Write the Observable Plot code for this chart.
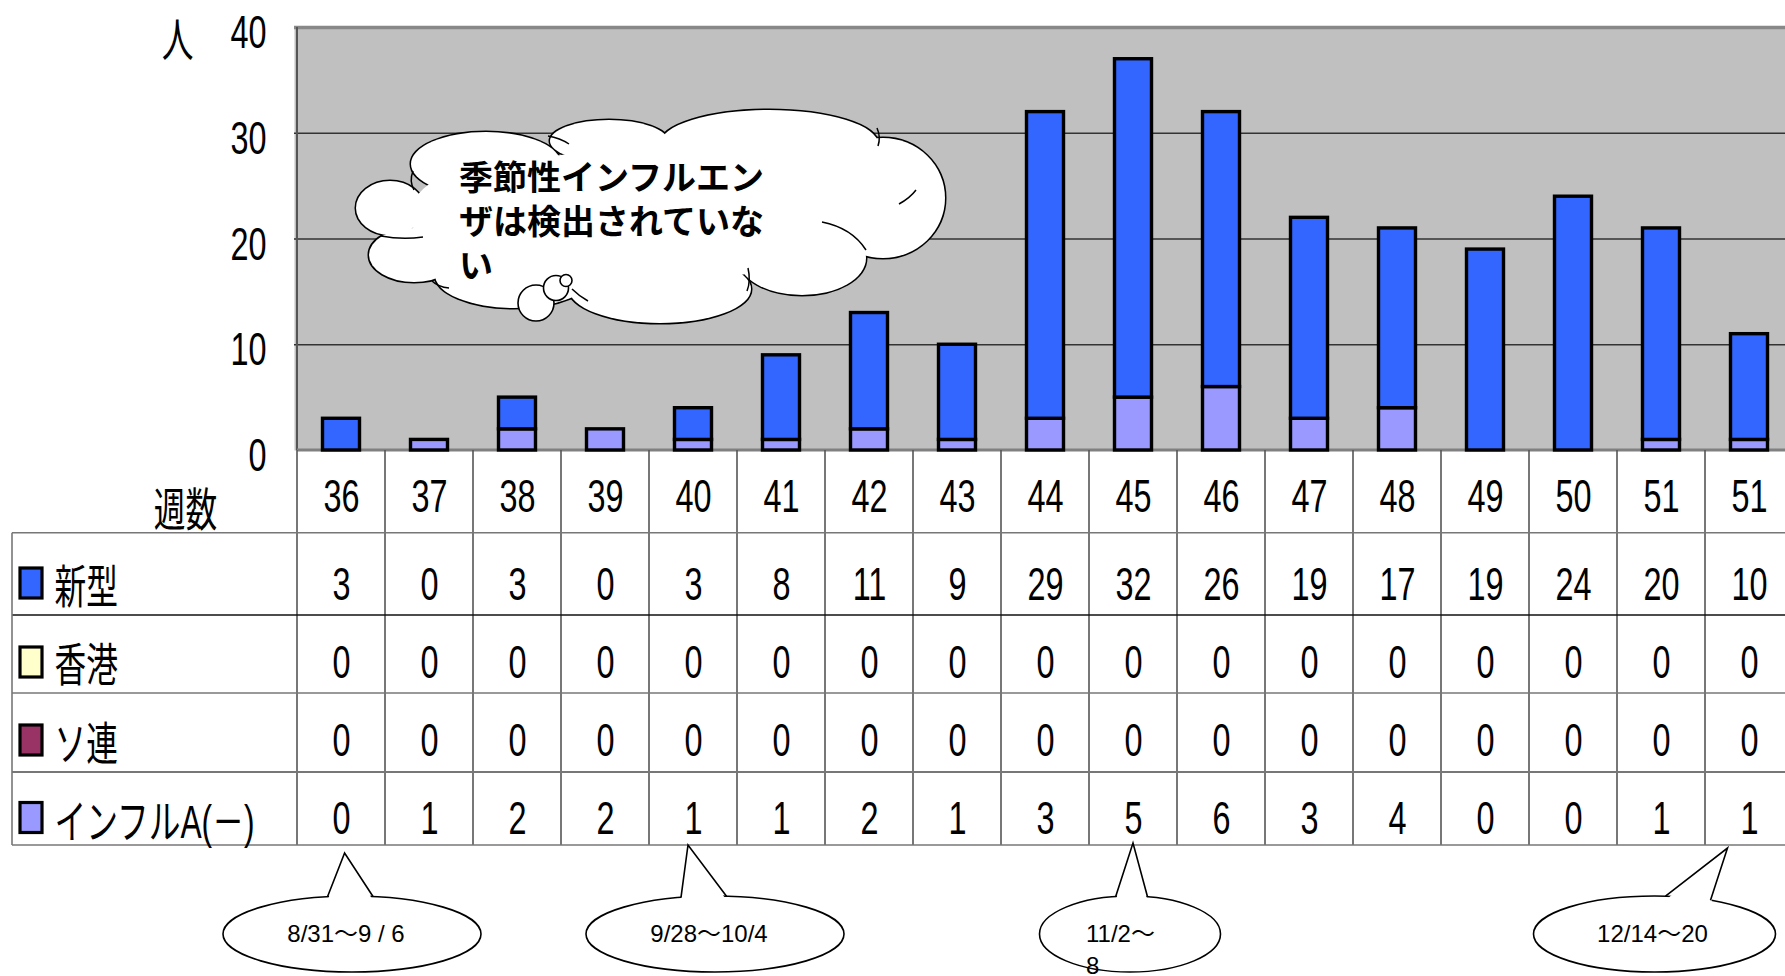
<!DOCTYPE html>
<html><head><meta charset="utf-8">
<script src="https://cdn.jsdelivr.net/npm/d3@7"></script>
<script src="https://cdn.jsdelivr.net/npm/@observablehq/plot@0.6"></script>
<style>
html,body{margin:0;padding:0;background:#fff;overflow:hidden;}
#chart{width:1785px;height:976px;}
</style></head><body><div id="chart"></div>
<script>
// ---- data ----
const weeks = ["36","37","38","39","40","41","42","43","44","45","46","47","48","49","50","51","51"];
const shingata = [3,0,3,0,3,8,11,9,29,32,26,19,17,19,24,20,10];
const hongkong = [0,0,0,0,0,0,0,0,0,0,0,0,0,0,0,0,0];
const soren    = [0,0,0,0,0,0,0,0,0,0,0,0,0,0,0,0,0];
const influA   = [0,1,2,2,1,1,2,1,3,5,6,3,4,0,0,1,1];
const seriesNames = ["新型","香港","ソ連","インフルA(－)"];
const seriesColors = ["#3366FF","#FFFFCC","#993366","#9999FF"];
const yTicks = [0,10,20,30,40];
const yUnit = "人";
const xTitle = "週数";
const cloudLines = ["季節性インフルエン","ザは検出されていな","い"];
const dateNotes = [
  {col:0,  lines:["8/31〜9 / 6"]},
  {col:4,  lines:["9/28〜10/4"]},
  {col:9,  lines:["11/2〜","8"]},
  {col:16, lines:["12/14〜20"]}
];

// ---- layout ----
const W = 1785, H = 976;
const L = {left:294, top:27, bottom:450, right:1795.7,
  rowEdges:[0,82.7,165,243,322,395], tableLeft:12,
  textRows:[46,134,212,290.4,368.3], labelRows:[138,216,294.5,373],
  swatchRows:[133,212,290,367.5]};
const NARROW = "Liberation Sans, Noto Sans CJK JP, sans-serif";
const seriesValues = [shingata, hongkong, soren, influA];

const barData = [];
for (const s of [3,0,1,2]) weeks.forEach((w,i) => {
  const v = seriesValues[s][i];
  if (v > 0) barData.push({i, series: seriesNames[s], value: v});
});

function narrowText(data, opts) {
  return Plot.text(data, {fontFamily: NARROW, fill: "#000", className: "narrow", fontSize: 47,
    lineAnchor: "middle", textAnchor: "middle", ...opts});
}

function tableMark(index, scales, values, dims) {
  const x = scales.x, bw = x.bandwidth();
  const yb = dims.height - dims.marginBottom;
  const g = d3.create("svg:g");
  const n = weeks.length;
  const bottom = yb + L.rowEdges[L.rowEdges.length-1];
  g.append("line").attr("x1", x(0)).attr("x2", x(0)).attr("y1", dims.marginTop).attr("y2", yb)
    .attr("stroke", "#555").attr("stroke-width", 2);
  g.append("line").attr("x1", x(0)).attr("x2", dims.width).attr("y1", yb).attr("y2", yb)
    .attr("stroke", "#808080").attr("stroke-width", 3);
  for (let i = 0; i <= n; i++) {
    const xx = i < n ? x(i) : x(n-1) + bw;
    g.append("line").attr("x1", xx).attr("x2", xx).attr("y1", yb).attr("y2", bottom)
      .attr("stroke", "#555").attr("stroke-width", 1.6);
  }
  L.rowEdges.slice(1).forEach((o, k) => {
    g.append("line").attr("x1", L.tableLeft).attr("x2", dims.width).attr("y1", yb + o).attr("y2", yb + o)
      .attr("stroke", k === 1 ? "#111" : "#777").attr("stroke-width", k === 3 ? 2.2 : 1.6);
  });
  g.append("line").attr("x1", L.tableLeft).attr("x2", L.tableLeft).attr("y1", yb + L.rowEdges[1]).attr("y2", bottom)
    .attr("stroke", "#777").attr("stroke-width", 1.6);
  seriesColors.forEach((c, k) => {
    g.append("rect").attr("x", 20).attr("y", yb + L.swatchRows[k] - 15).attr("width", 22).attr("height", 30)
      .attr("fill", c).attr("stroke", "#000").attr("stroke-width", 3.2);
  });
  return g.node();
}

function cloudMark(index, scales, values, dims) {
  const g = d3.create("svg:g");
  const bumps = [
    [390,208,34,27],[414,255,45,27],[486,164,75,32],[609,141,59,21],[769,144,109,34],
    [883,198,62,60],[802,258,64,37],[660,289,91,34],[514,275,79,33]
  ];
  const outline = g.append("g");
  bumps.forEach(([cx,cy,rx,ry]) => outline.append("ellipse").attr("cx",cx).attr("cy",cy).attr("rx",rx).attr("ry",ry)
    .attr("fill","#fff").attr("stroke","#000").attr("stroke-width",3));
  const fillL = g.append("g");
  bumps.concat([[650,215,215,66],[795,205,90,45],[520,215,110,55]]).forEach(([cx,cy,rx,ry]) =>
    fillL.append("ellipse").attr("cx",cx).attr("cy",cy).attr("rx",rx).attr("ry",ry).attr("fill","#fff"));
  // short inner arcs of the cloud callout
  ["M381,236 Q402,240 423,237", "M413,171 Q409,181 414,190", "M548,136 Q560,138 569,144",
   "M822,222 Q852,228 866,250", "M899,204 Q910,198 916,190", "M748,268 Q751,281 747,291",
   "M572,289 Q579,296 588,301", "M432,281 Q438,287 449,288", "M877,128 Q881,137 878,146"]
    .forEach(d => g.append("path").attr("d", d).attr("fill","none").attr("stroke","#000").attr("stroke-width",1.5));
  [[536,303,18],[556,288,12.5],[566,280.5,6]].forEach(([cx,cy,r]) =>
    g.append("circle").attr("cx",cx).attr("cy",cy).attr("r",r).attr("fill","#fff").attr("stroke","#000").attr("stroke-width",1.6));
  const t = g.append("text").attr("font-family","Noto Sans CJK JP, sans-serif").attr("font-weight","bold")
    .attr("font-size",34).attr("fill","#000").attr("text-anchor","start");
  cloudLines.forEach((s, k) => t.append("tspan").attr("x", 459).attr("y", 190 + 44*k).text(s));
  return g.node();
}

function notesMark(index, scales, values, dims) {
  const x = scales.x, bw = x.bandwidth();
  const g = d3.create("svg:g");
  const geo = [
    {ex:11,  rx:129,  tip:3.6,   tipY:853, b:[-24.5,21],  tx:-6,  anchor:"middle"},
    {ex:22,  rx:129,  tip:-5,    tipY:845, b:[-34,11.5],  tx:-6,  anchor:"middle"},
    {ex:-3,  rx:90.5, tip:0,     tipY:843, b:[-14.3,17.5],tx:-44, anchor:"start"},
    {ex:-94.5,rx:121, tip:-21.5, tipY:848, b:[11,56],     tx:-2,  anchor:"middle"}
  ];
  const cy = 934, ry = 38;
  dateNotes.forEach((note, k) => {
    const p = geo[k];
    const cc = x(note.col) + bw/2;
    const cx = cc + p.ex;
    const tx = cc + p.tip;
    const by = d => cy - ry*Math.sqrt(Math.max(0, 1 - (d/p.rx)**2));
    g.append("ellipse").attr("cx",cx).attr("cy",cy).attr("rx",p.rx).attr("ry",ry)
      .attr("fill","#fff").attr("stroke","#000").attr("stroke-width",1.6);
    const b0 = [cx + p.b[0], by(p.b[0])], b1 = [cx + p.b[1], by(p.b[1])];
    g.append("path").attr("d", `M${b0[0]},${b0[1]+4}L${tx},${p.tipY}L${b1[0]},${b1[1]+4}Z`).attr("fill","#fff");
    g.append("path").attr("d", `M${b0[0]},${b0[1]}L${tx},${p.tipY}L${b1[0]},${b1[1]}`)
      .attr("fill","none").attr("stroke","#000").attr("stroke-width",1.6);
    const t = g.append("text").attr("font-family","Liberation Sans, Noto Sans CJK JP, sans-serif")
      .attr("font-size",24).attr("fill","#000").attr("text-anchor",p.anchor);
    note.lines.forEach((s, j) => t.append("tspan").attr("x", cx + p.tx).attr("y", 942 + 32*j).text(s));
  });
  return g.node();
}

const marks = [
  Plot.frame({fill: "#C0C0C0", stroke: "none"}),
  Plot.ruleY([10,20,30], {stroke: "#333", strokeWidth: 1.3}),
  Plot.ruleY([40], {stroke: "#888", strokeWidth: 3.5}),
  tableMark,
  Plot.barY(barData, {x: "i", y: "value", fill: "series", stroke: "#000", strokeWidth: 3.4,
    insetLeft: 25.5, insetRight: 25.5, order: null}),
  cloudMark,
  notesMark,
  narrowText(yTicks, {y: d => d, text: d => String(d), frameAnchor: "left", dx: -28, dy: 5.5, textAnchor: "end"}),
  narrowText([yUnit], {frameAnchor: "top-left", dx: -117, dy: 14, fontSize: 46}),
  narrowText([xTitle], {frameAnchor: "bottom-left", dx: -109, dy: 61, fontSize: 46}),
  narrowText(weeks, {x: (d, i) => i, text: d => d, frameAnchor: "bottom", dy: L.textRows[0]}),
  ...seriesValues.map((vals, s) => narrowText(vals, {x: (d, i) => i, text: d => String(d), frameAnchor: "bottom", dy: L.textRows[s+1]})),
  ...seriesNames.map((name, s) => narrowText([name], {frameAnchor: "bottom-left", textAnchor: "start", dx: 54 - L.left, dy: L.labelRows[s], fontSize: 46}))
];

const plot = Plot.plot({
  width: W, height: H,
  marginLeft: L.left, marginTop: L.top, marginBottom: H - L.bottom, marginRight: 0,
  style: {background: "#fff", overflow: "hidden"},
  x: {type: "band", domain: d3.range(weeks.length), range: [L.left, L.right], padding: 0, axis: null},
  y: {domain: [0, 40], range: [L.bottom, L.top], axis: null},
  color: {domain: seriesNames, range: seriesColors},
  marks
});

const narrowSel = new Set([...plot.querySelectorAll("g.narrow text"), ...plot.querySelectorAll(`g[font-family="${NARROW}"] text`)]);
narrowSel.forEach(t => t.setAttribute("transform", (t.getAttribute("transform") || "") + " scale(0.69,1)"));
document.getElementById("chart").appendChild(plot);
</script></body></html>
